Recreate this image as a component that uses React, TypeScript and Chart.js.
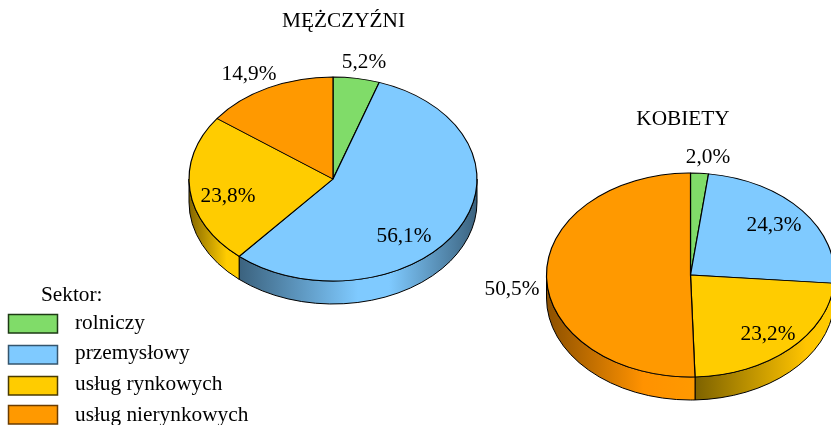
import React, { useEffect, useRef } from "react";
import { Chart, registerables } from "chart.js";

Chart.register(...registerables);

const sectorLabels = ["rolniczy", "przemysłowy", "usług rynkowych", "usług nierynkowych"];
const menValues = [5.2, 56.1, 23.8, 14.9];
const womenValues = [2.0, 24.3, 23.2, 50.5];
const sectorColors = ["#80dc69", "#7fcaff", "#ffcc00", "#ff9900"];
const swatchBorders = ["#1c3a14", "#34556e", "#4a3b00", "#6b3c00"];

const W = 831;
const H = 425;
const FONT = '21.3px "Liberation Serif"';
const RX = 144;
const RY = 102;
const DEPTH = 23;

type Stop = [number, string];
const menWalls: Stop[][] = [
  [[0, "#80dc69"], [1, "#80dc69"]],
  [[0, "#3b627e"], [0.5, "#7fcaff"], [0.63, "#7fcaff"], [1, "#3b627e"]],
  [[0, "#846600"], [0.75, "#ffcc00"], [1, "#ffcc00"]],
  [[0, "#ff9900"], [1, "#ff9900"]],
];
const womenWalls: Stop[][] = [
  [[0, "#80dc69"], [1, "#80dc69"]],
  [[0, "#7fcaff"], [1, "#3b627e"]],
  [[0, "#7d6200"], [0.8, "#ffc400"], [1, "#ffcc00"]],
  [[0, "#8c5000"], [0.65, "#ff9200"], [1, "#ff9900"]],
];

const menTextLabels: [string, number, number][] = [
  ["MĘŻCZYŹNI", 343.5, 27],
];
const womenTextLabels: [string, number, number][] = [
  ["KOBIETY", 683, 125],
];
const menLabelPos: [number, number][] = [[364, 68], [404, 242], [228, 202], [249, 80]];
const womenLabelPos: [number, number][] = [[708, 163], [774, 231], [768, 340], [512, 295]];

const swatchRows: [number, number][] = [[314, 329], [345, 359], [376, 390], [405, 421]];

const fmt = (v: number) => v.toFixed(1).replace(".", ",") + "%";

function pie3d(walls: Stop[][]) {
  return {
    id: "pie3d",
    beforeDatasetDraw(chart: any) {
      const ctx = chart.ctx;
      const arcs = chart.getDatasetMeta(0).data;
      const cx = arcs[0].x;
      const cy = arcs[0].y;
      arcs.forEach((arc: any, i: number) => {
        const a = Math.max(arc.startAngle, 0);
        const b = Math.min(arc.endAngle, Math.PI);
        if (b <= a) return;
        const x0 = cx + RX * Math.cos(b);
        const x1 = cx + RX * Math.cos(a);
        const g = ctx.createLinearGradient(x0, 0, x1, 0);
        walls[i].forEach(([o, c]) => g.addColorStop(o, c));
        ctx.save();
        ctx.beginPath();
        ctx.ellipse(cx, cy, RX, RY, 0, a, b);
        ctx.ellipse(cx, cy + DEPTH, RX, RY, 0, b, a, true);
        ctx.closePath();
        ctx.fillStyle = g;
        ctx.fill();
        ctx.strokeStyle = "#000";
        ctx.lineWidth = 1;
        ctx.stroke();
        ctx.restore();
      });
      ctx.save();
      ctx.translate(cx, cy);
      ctx.scale(1, RY / RX);
      ctx.translate(-cx, -cy);
    },
    afterDatasetDraw(chart: any) {
      chart.ctx.restore();
    },
  };
}

function textPlugin(values: number[], pos: [number, number][], titles: [string, number, number][], legend: boolean) {
  return {
    id: "texts",
    afterDraw(chart: any) {
      const ctx = chart.ctx;
      ctx.save();
      ctx.font = FONT;
      ctx.fillStyle = "#000";
      ctx.textBaseline = "alphabetic";
      ctx.textAlign = "center";
      titles.forEach(([t, x, y]) => ctx.fillText(t, x, y));
      values.forEach((v, i) => ctx.fillText(fmt(v), pos[i][0], pos[i][1]));
      if (legend) {
        ctx.textAlign = "left";
        ctx.fillText("Sektor:", 41, 301);
        sectorLabels.forEach((label, i) => {
          const [top, base] = swatchRows[i];
          ctx.fillStyle = sectorColors[i];
          ctx.fillRect(8.5, top + 0.5, 49, 18.5);
          ctx.strokeStyle = swatchBorders[i];
          ctx.lineWidth = 1.5;
          ctx.strokeRect(8.5, top + 0.5, 49, 18.5);
          ctx.fillStyle = "#000";
          ctx.fillText(label, 75, base);
        });
      }
      ctx.restore();
    },
  };
}

function makePie(
  canvas: HTMLCanvasElement,
  values: number[],
  cx: number,
  cy: number,
  plugins: any[]
) {
  const half = 20;
  return new Chart(canvas, {
    type: "pie",
    data: {
      labels: sectorLabels,
      datasets: [
        {
          data: values,
          backgroundColor: sectorColors,
          borderColor: "#000",
          borderWidth: 1.2,
          radius: RX,
          clip: false,
        } as any,
      ],
    },
    options: {
      responsive: false,
      animation: false,
      events: [],
      layout: {
        padding: {
          left: cx - half,
          right: W - cx - half,
          top: cy - half,
          bottom: H - cy - half,
        },
      },
      plugins: {
        legend: { display: false },
        title: { display: false },
        tooltip: { enabled: false },
      },
    } as any,
    plugins,
  });
}

export default function App() {
  const menRef = useRef<HTMLCanvasElement>(null);
  const womenRef = useRef<HTMLCanvasElement>(null);

  useEffect(() => {
    const men = makePie(menRef.current!, menValues, 333, 179, [
      pie3d(menWalls),
      textPlugin(menValues, menLabelPos, menTextLabels, true),
    ]);
    const women = makePie(womenRef.current!, womenValues, 690.5, 275, [
      pie3d(womenWalls),
      textPlugin(womenValues, womenLabelPos, womenTextLabels, false),
    ]);
    return () => {
      men.destroy();
      women.destroy();
    };
  }, []);

  const style: React.CSSProperties = { position: "absolute", left: 0, top: 0, display: "block" };
  return (
    <div style={{ position: "fixed", inset: 0, overflow: "hidden", background: "#fff" }}>
      <canvas ref={womenRef} width={W} height={H} style={style} />
      <canvas ref={menRef} width={W} height={H} style={style} />
    </div>
  );
}
